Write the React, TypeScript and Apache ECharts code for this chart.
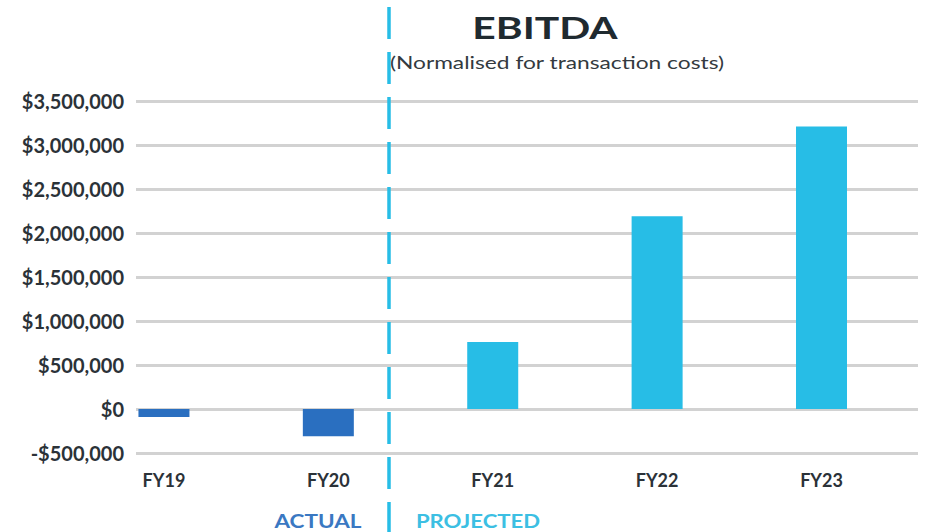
import React, { useEffect, useRef } from "react";
import * as echarts from "echarts";

const categories = ["FY19", "FY20", "FY21", "FY22", "FY23"];
const ebitda = [-90000, -310000, 760000, 2190000, 3210000];
const actualCount = 2;
const yTicks = { min: -500000, max: 3500000, interval: 500000 };

const DARK = "#2a6fc0";
const LIGHT = "#27bde6";
const FONT = "Lato";

function fmtMoney(v: number): string {
  const s = Math.abs(v).toLocaleString("en-US");
  return (v < 0 ? "-$" : "$") + s;
}

export default function App() {
  const ref = useRef<HTMLDivElement>(null);
  useEffect(() => {
    if (!ref.current) return;
    const chart = echarts.init(ref.current, undefined, { renderer: "svg" });
    const data = ebitda.map((v, i) => ({
      value: [i, v],
      itemStyle: { color: i < actualCount ? DARK : LIGHT },
    }));
    chart.setOption({
      animation: false,
      backgroundColor: "#ffffff",
      grid: { left: 136, right: 12, top: 101, bottom: 79, containLabel: false },
      xAxis: {
        type: "value",
        min: -0.17,
        max: 4.587,
        minInterval: 1,
        maxInterval: 1,
        axisLine: { show: false },
        axisTick: { show: false },
        splitLine: { show: false },
        axisLabel: {
          margin: 18,
          color: "#2b3238",
          fontFamily: FONT,
          fontSize: 18,
          fontWeight: "bold",
          showMinLabel: false,
          showMaxLabel: false,
          formatter: (v: number) =>
            Number.isInteger(v) && categories[v] !== undefined ? categories[v] : "",
        },
      },
      yAxis: {
        type: "value",
        min: yTicks.min,
        max: yTicks.max,
        interval: yTicks.interval,
        axisLine: { show: false },
        axisTick: { show: false },
        splitLine: { show: true, lineStyle: { color: "#d2d2d2", width: 3 } },
        axisLabel: {
          margin: 12,
          color: "#2b3238",
          fontFamily: FONT,
          fontSize: 20,
          fontWeight: "bold",
          formatter: (v: number) => fmtMoney(v),
        },
      },
      series: [
        {
          type: "bar",
          barWidth: 51,
          data,
        },
      ],
      graphic: [
        {
          type: "line",
          shape: { x1: 389, y1: 7, x2: 389, y2: 532 },
          style: { stroke: LIGHT, lineWidth: 3.5, lineDash: [32, 13] },
          z: 10,
        },
        {
          type: "text",
          x: 545,
          y: 28,
          scaleX: 1.36,
          style: {
            text: "EBITDA",
            fill: "#1f2a30",
            font: `bold 30px ${FONT}`,
            textAlign: "center",
            textVerticalAlign: "middle",
          },
        },
        {
          type: "text",
          x: 557,
          y: 62,
          scaleX: 1.3,
          style: {
            text: "(Normalised for transaction costs)",
            fill: "#333a3f",
            font: `17.5px ${FONT}`,
            textAlign: "center",
            textVerticalAlign: "middle",
          },
        },
        {
          type: "text",
          x: 318,
          y: 521,
          scaleX: 1.25,
          style: {
            text: "ACTUAL",
            fill: "#3a78c2",
            font: `bold 18px ${FONT}`,
            textAlign: "center",
            textVerticalAlign: "middle",
          },
        },
        {
          type: "text",
          x: 478,
          y: 521,
          scaleX: 1.23,
          style: {
            text: "PROJECTED",
            fill: "#3cbfe3",
            font: `bold 18px ${FONT}`,
            textAlign: "center",
            textVerticalAlign: "middle",
          },
        },
      ],
    });
    return () => chart.dispose();
  }, []);
  return <div ref={ref} style={{ width: 930, height: 532, position: "fixed", left: 0, top: 0 }} />;
}
